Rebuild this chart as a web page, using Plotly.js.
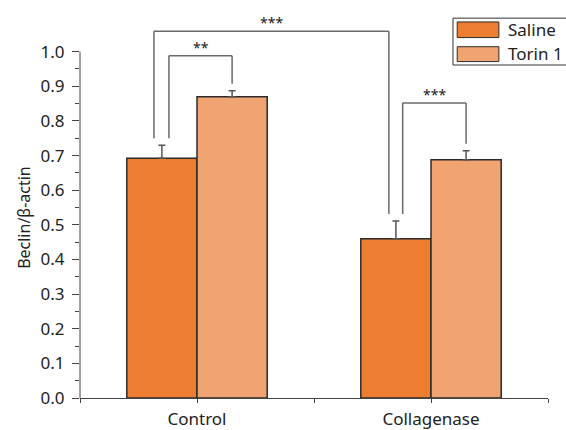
<!DOCTYPE html>
<html>
<head>
<meta charset="utf-8">
<script src="https://cdn.plot.ly/plotly-3.0.1.min.js"></script>
<style>html,body{margin:0;padding:0;background:#fff;}#chart{width:566px;height:430px;}</style>
</head>
<body>
<div id="chart"></div>
<script>
// ---- data ----
var categories = ['Control', 'Collagenase'];
var seriesNames = ['Saline', 'Torin 1'];
var salineValues = [0.692, 0.460];
var salineErrors = [0.038, 0.051];
var torinValues = [0.870, 0.688];
var torinErrors = [0.017, 0.026];
var yTickValues = [0, 0.1, 0.2, 0.3, 0.4, 0.5, 0.6, 0.7, 0.8, 0.9, 1.0];
var yTickLabels = ['0.0', '0.1', '0.2', '0.3', '0.4', '0.5', '0.6', '0.7', '0.8', '0.9', '1.0'];
var yMinorTicks = [0.05, 0.15, 0.25, 0.35, 0.45, 0.55, 0.65, 0.75, 0.85, 0.95];
var yTitle = 'Beclin/β-actin';
// significance comparisons: [group, series] pairs, bracket top value, label
var comparisons = [
  {a: [0, 0], b: [0, 1], top: 0.988, label: '**'},
  {a: [0, 0], b: [1, 0], top: 1.059, label: '***'},
  {a: [1, 0], b: [1, 1], top: 0.852, label: '***'}
];

// ---- styles ----
var colors = ['#ED7D31', '#F0A472'];
var barLine = '#2b2b2b';
var bracketColor = '#6a6a6a';
var legOffsets = [[0.03, 0], [-0.034, -0.03], [0.029, 0]];
var legGap = 0.02;
var halfBar = 0.15;
var fontFam = '"Noto Sans", "Open Sans", sans-serif';

var xpos = categories.map(function (c, i) { return i; });
var vals = [salineValues, torinValues];
var errs = [salineErrors, torinErrors];

var traces = seriesNames.map(function (name, s) {
  return {
    type: 'bar',
    name: name,
    x: xpos,
    y: vals[s],
    marker: {color: colors[s], line: {color: barLine, width: 1.5}},
    error_y: {type: 'data', symmetric: false, array: errs[s], arrayminus: errs[s].map(function () { return 0; }),
      color: '#555', thickness: 1.5, width: 3.5},
    showlegend: false,
    hoverinfo: 'x+y'
  };
});

var shapes = [];
var annotations = [];

comparisons.forEach(function (c, k) {
  var xa = c.a[0] + (c.a[1] === 0 ? -halfBar : halfBar) + legOffsets[k][0];
  var xb = c.b[0] + (c.b[1] === 0 ? -halfBar : halfBar) + legOffsets[k][1];
  var ya = vals[c.a[1]][c.a[0]] + errs[c.a[1]][c.a[0]] + legGap;
  var yb = vals[c.b[1]][c.b[0]] + errs[c.b[1]][c.b[0]] + legGap;
  var ln = {color: bracketColor, width: 1.5};
  shapes.push({type: 'line', xref: 'x', yref: 'y', x0: xa, x1: xa, y0: ya, y1: c.top, line: ln});
  shapes.push({type: 'line', xref: 'x', yref: 'y', x0: xa, x1: xb, y0: c.top, y1: c.top, line: ln});
  shapes.push({type: 'line', xref: 'x', yref: 'y', x0: xb, x1: xb, y0: c.top, y1: yb, line: ln});
  annotations.push({x: (xa + xb) / 2, y: c.top, xref: 'x', yref: 'y', text: c.label, showarrow: false,
    yanchor: 'bottom', yshift: -3, font: {family: fontFam, size: 14, color: '#222'}});
});

// y axis line only from 0 to 1.0
shapes.push({type: 'line', xref: 'paper', yref: 'y', x0: 0, x1: 0, y0: 0, y1: yTickValues[yTickValues.length - 1],
  line: {color: '#444', width: 1}});

// manual legend
shapes.push({type: 'rect', xref: 'paper', yref: 'paper', x0: 0.797, x1: 1.06, y0: 0.874, y1: 0.997,
  line: {color: '#333', width: 1}, fillcolor: 'rgba(255,255,255,0)'});
var swY = [[0.946, 0.987], [0.883, 0.922]];
var txY = [0.966, 0.903];
seriesNames.forEach(function (name, s) {
  shapes.push({type: 'rect', xref: 'paper', yref: 'paper', x0: 0.806, x1: 0.895, y0: swY[s][0], y1: swY[s][1],
    line: {color: barLine, width: 1}, fillcolor: colors[s]});
  annotations.push({xref: 'paper', yref: 'paper', x: 0.91, y: txY[s], text: name, showarrow: false,
    xanchor: 'left', yanchor: 'middle', font: {family: fontFam, size: 17, color: '#222'}});
});

// y title
annotations.push({xref: 'paper', yref: 'paper', x: -0.12, y: 0.475, text: yTitle, textangle: -90,
  showarrow: false, xanchor: 'center', yanchor: 'middle', font: {family: fontFam, size: 16, color: '#222'}});

var layout = {
  width: 566, height: 430,
  margin: {l: 80, r: 18, t: 17, b: 32, pad: 0},
  paper_bgcolor: '#fff', plot_bgcolor: '#fff',
  barmode: 'group', bargap: 0.4, bargroupgap: 0,
  font: {family: fontFam, size: 14, color: '#222'},
  xaxis: {
    type: 'linear', range: [-0.5, 1.5],
    tickmode: 'array',
    tickvals: [-0.5, 0, 0.5, 1, 1.5],
    ticktext: ['', categories[0], '', categories[1], ''],
    ticks: 'outside', ticklen: 4, tickcolor: '#444', tickwidth: 1,
    ticklabelstandoff: 2,
    showline: true, linecolor: '#444', linewidth: 1,
    showgrid: false, zeroline: false,
    tickfont: {family: fontFam, size: 17, color: '#222'}
  },
  yaxis: {
    range: [0, 1.1],
    tickmode: 'array', tickvals: yTickValues, ticktext: yTickLabels,
    ticks: 'outside', ticklen: 7, tickcolor: '#444', tickwidth: 1,
    ticklabelstandoff: 4,
    minor: {tickmode: 'array', tickvals: yMinorTicks, ticks: 'outside', ticklen: 4, tickcolor: '#444', showgrid: false},
    showline: false, showgrid: false, zeroline: false,
    tickfont: {family: fontFam, size: 17, color: '#222'}
  },
  shapes: shapes,
  annotations: annotations
};

Plotly.newPlot('chart', traces, layout, {displayModeBar: false, staticPlot: true});
</script>
</body>
</html>
